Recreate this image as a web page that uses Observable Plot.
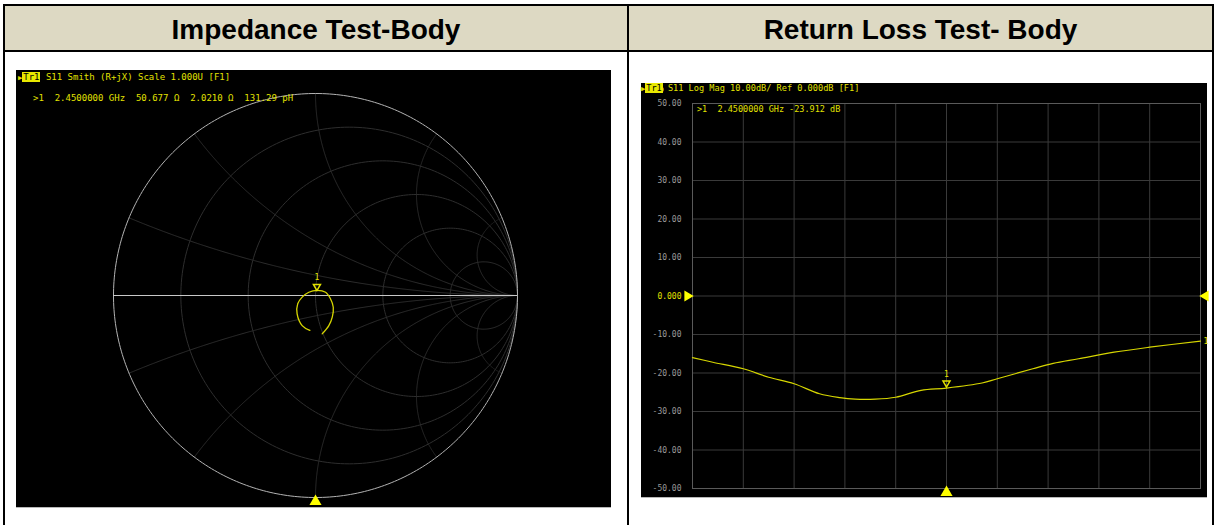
<!DOCTYPE html>
<html><head><meta charset="utf-8">
<script src="https://cdn.jsdelivr.net/npm/d3@7"></script>
<script src="https://cdn.jsdelivr.net/npm/@observablehq/plot@0.6"></script>
<style>
body{margin:0;background:#fff;width:1216px;height:525px;position:relative;overflow:hidden;font-family:"Liberation Sans",Arial,sans-serif;}
.abs{position:absolute;}
.line{background:#000;}
.hdr{position:absolute;top:8px;height:44px;line-height:44px;text-align:center;font-weight:bold;font-size:28px;color:#000;}
.vna{position:absolute;font-family:"DejaVu Sans Mono",monospace;color:#e2e200;white-space:pre;z-index:5;}
.tr{background:#e8e800;color:#000;padding:0 1px;}
.panel{position:absolute;background:#000;border-bottom:1px solid #b8b8b8;}
</style></head>
<body>
<div class="abs" style="left:5px;top:6px;width:1207px;height:44px;background:#ddd9c3"></div>
<div class="abs line" style="left:3px;top:4px;width:1211px;height:2px"></div>
<div class="abs line" style="left:3px;top:50px;width:1211px;height:2px"></div>
<div class="abs line" style="left:3px;top:4px;width:2px;height:521px"></div>
<div class="abs line" style="left:627px;top:4px;width:2px;height:521px"></div>
<div class="abs line" style="left:1212px;top:4px;width:2px;height:521px"></div>
<div id="t0" class="hdr" style="left:5px;width:622px"></div>
<div id="t1" class="hdr" style="left:629px;width:583px"></div>
<div id="leftPanel" class="panel" style="left:16px;top:70px;width:595px;height:437px"></div>
<div id="rightPanel" class="panel" style="left:641px;top:83px;width:566px;height:414px"></div>
<div class="vna" style="left:18px;top:72px;font-size:9px"><span style="font-size:7px">&#9654;</span><span class="tr">Tr1</span> S11 Smith (R+jX) Scale 1.000U [F1]</div>
<div id="leftReadout" class="vna" style="left:33px;top:93px;font-size:9px"></div>
<div class="vna" style="left:641px;top:83px;font-size:8.6px"><span style="font-size:7px">&#9654;</span><span class="tr">Tr1</span> S11 Log Mag 10.00dB/ Ref 0.000dB [F1]</div>
<div id="rightReadout" class="vna" style="left:697px;top:104px;font-size:8.5px"></div>
<script>
// ---------- data ----------
const panelTitles = ["Impedance Test-Body", "Return Loss Test- Body"];

// Smith chart grid values (normalised resistance / reactance)
const smithR = [0.2, 0.5, 1, 2, 5];
const smithX = [0.2, 0.5, 1, 2, 5];

// S11 trace on the Smith chart (reflection coefficient, real / imaginary)
const loopRe = [-0.028, -0.066, -0.091, -0.088, -0.066, -0.033, 0.008, 0.050, 0.074, 0.088, 0.083, 0.066, 0.033];
const loopIm = [-0.173, -0.149, -0.091, -0.041, -0.008, 0.016, 0.025, 0.016, -0.016, -0.058, -0.107, -0.149, -0.190];

// marker 1
const markerFreqGHz = 2.45;
const markerRohm = 50.677;
const markerXohm = 2.0210;
const markerLpH = 131.29;
const markerDB = -23.912;
const z0 = 50;

// Return loss trace
const freqGHz = [1.95, 1.99, 2.05, 2.10, 2.15, 2.20, 2.24, 2.27, 2.31, 2.35, 2.40, 2.45, 2.52, 2.55, 2.62, 2.66, 2.71, 2.78, 2.85, 2.95];
const s11dB   = [-16.0, -17.2, -18.9, -21.1, -22.8, -25.4, -26.4, -26.8, -26.8, -26.3, -24.5, -23.912, -22.6, -21.5, -18.9, -17.5, -16.3, -14.6, -13.3, -11.7];
const freqStart = 1.95, freqStop = 2.95;
const xDivisions = [2.05, 2.15, 2.25, 2.35, 2.45, 2.55, 2.65, 2.75, 2.85];
const yTicks = [50, 40, 30, 20, 10, 0, -10, -20, -30, -40, -50];

// ---------- build ----------
document.getElementById("t0").textContent = panelTitles[0];
document.getElementById("t1").textContent = panelTitles[1];
document.getElementById("leftReadout").textContent =
  `>1  ${markerFreqGHz.toFixed(7)} GHz  ${markerRohm.toFixed(3)} \u03A9  ${markerXohm.toFixed(4)} \u03A9  ${markerLpH.toFixed(2)} pH`;
document.getElementById("rightReadout").textContent =
  `>1  ${markerFreqGHz.toFixed(7)} GHz ${markerDB.toFixed(3)} dB`;

const YEL = "#e2e200", TRACE = "#d6d600", TRI = "#ffff00";

function gamma(a, b) { const d = (a + 1) * (a + 1) + b * b; return [(a * a - 1 + b * b) / d, 2 * b / d]; }

const gridPts = [];
smithR.forEach(r => {
  const c = r / (1 + r), rad = 1 / (1 + r);
  for (let i = 0; i <= 240; i++) { const t = i / 240 * 2 * Math.PI; gridPts.push({id: "r" + r, gx: c + rad * Math.cos(t), gy: rad * Math.sin(t)}); }
});
smithX.flatMap(x => [x, -x]).forEach(x => {
  for (let i = 0; i <= 400; i++) {
    const t = i / 400; const a = t < 1 ? t / (1 - t) : 1e7;
    const [gx, gy] = gamma(a, x); gridPts.push({id: "x" + x, gx, gy});
  }
});
const outer = d3.range(0, 361).map(i => ({gx: Math.cos(i * Math.PI / 180), gy: Math.sin(i * Math.PI / 180)}));
const loop = loopRe.map((re, i) => ({re, im: loopIm[i]}));
const [mRe, mIm] = gamma(markerRohm / z0, markerXohm / z0);
const smithMarker = [{re: mRe, im: mIm}];

const left = Plot.plot({
  width: 595, height: 437, marginLeft: 97, marginRight: 94, marginTop: 23, marginBottom: 10,
  x: {domain: [-1, 1], axis: null}, y: {domain: [-1, 1], axis: null},
  style: {background: "#000", overflow: "visible", fontFamily: "DejaVu Sans Mono"},
  marks: [
    Plot.line(gridPts, {x: "gx", y: "gy", z: "id", stroke: "#2e2e2e", strokeWidth: 1}),
    Plot.line(outer, {x: "gx", y: "gy", stroke: "#b4b4b4", strokeWidth: 1}),
    Plot.ruleY([0], {stroke: "#c8c8c8", strokeWidth: 1}),
    Plot.line(loop, {x: "re", y: "im", stroke: TRACE, strokeWidth: 1.3, curve: "catmull-rom"}),
    Plot.dot(smithMarker, {x: "re", y: "im", symbol: "triangle", rotate: 180, r: 2.6, stroke: YEL, fill: "none", dy: -5}),
    Plot.text(smithMarker, {x: "re", y: "im", text: () => "1", dy: -14, fill: YEL, fontSize: 8}),
    Plot.dot([{re: 0, im: -1}], {x: "re", y: "im", symbol: "triangle", r: 4.5, fill: TRI, stroke: null, dy: 4})
  ]
});
document.getElementById("leftPanel").appendChild(left);

const rl = freqGHz.map((f, i) => ({f, db: s11dB[i]}));
const right = Plot.plot({
  width: 566, height: 414, marginLeft: 51, marginRight: 7, marginTop: 20, marginBottom: 9,
  x: {domain: [freqStart, freqStop], axis: null},
  y: {domain: [-50, 50], axis: null},
  style: {background: "#000", overflow: "visible", fontFamily: "DejaVu Sans Mono", fontSize: "8px", color: "#9a9a9a"},
  marks: [
    Plot.gridX(xDivisions, {stroke: "#3a3a3a", strokeOpacity: 1}),
    Plot.gridY(yTicks, {stroke: "#3a3a3a", strokeOpacity: 1}),
    Plot.frame({stroke: "#5a5a5a"}),
    Plot.axisY(yTicks.filter(d => d !== 0), {tickSize: 0, tickPadding: 11, tickFormat: d => d.toFixed(2), fill: "#9a9a9a"}),
    Plot.axisY([0], {tickSize: 0, tickPadding: 11, tickFormat: () => "0.000", fill: YEL}),
    Plot.line(rl, {x: "f", y: "db", stroke: TRACE, strokeWidth: 1.2, curve: "catmull-rom"}),
    Plot.dot([{f: markerFreqGHz, db: markerDB}], {x: "f", y: "db", symbol: "triangle", rotate: 180, r: 2.6, stroke: YEL, fill: "none", dy: -5}),
    Plot.text([{f: markerFreqGHz, db: markerDB}], {x: "f", y: "db", text: () => "1", dy: -14, fill: YEL, fontSize: 8}),
    Plot.text([rl[rl.length - 1]], {x: "f", y: "db", text: () => "1", dx: 3, textAnchor: "start", fill: YEL, fontSize: 8}),
    Plot.dot([{f: freqStart, db: 0}], {x: "f", y: "db", symbol: "triangle", rotate: 90, r: 4, fill: TRI, stroke: null, dx: -5}),
    Plot.dot([{f: freqStop, db: 0}], {x: "f", y: "db", symbol: "triangle", rotate: -90, r: 4, fill: TRI, stroke: null, dx: 5}),
    Plot.dot([{f: markerFreqGHz, db: -50}], {x: "f", y: "db", symbol: "triangle", r: 4.5, fill: TRI, stroke: null, dy: 4})
  ]
});
document.getElementById("rightPanel").appendChild(right);
</script>
</body></html>
